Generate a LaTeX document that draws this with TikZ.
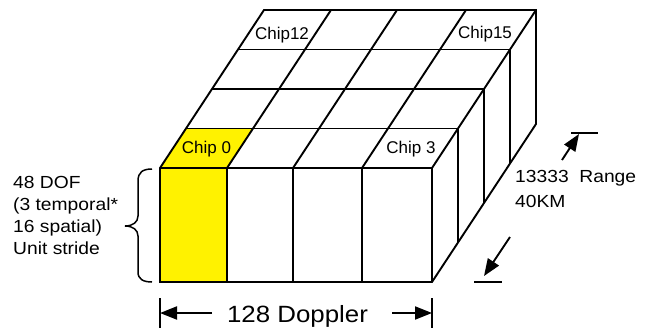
\documentclass[tikz,border=0pt]{standalone}
\usepackage{fontspec}
\setmainfont{Liberation Sans}
\newfontfamily\chipfont{Liberation Sans}
\newfontfamily\widefont[FakeStretch=1.1]{Liberation Sans}
\usetikzlibrary{arrows.meta}
\begin{document}
\begin{tikzpicture}[x=1pt,y=-1pt,
  edge/.style={draw=black, line width=1.9pt},
  chiplabel/.style={font=\chipfont\fontsize{17}{20}\selectfont, anchor=base, inner sep=0pt},
  sidelabel/.style={font=\widefont\fontsize{17.5}{22}\selectfont, anchor=base west, inner sep=0pt},
  biglabel/.style={font=\widefont\fontsize{23.5}{28}\selectfont, anchor=base, inner sep=0pt},
  dimarrow/.style={draw=black, line width=1.9pt, -{Triangle[length=17pt,width=13pt]}},
  bar/.style={draw=black, line width=1.9pt}]
\useasboundingbox (0,0) rectangle (652,333);

% corners
\coordinate (FTL) at (160,168);
\coordinate (FTR) at (432,168);
\coordinate (FBL) at (160,282);
\coordinate (FBR) at (432,282);
\coordinate (BTL) at (264,10);
\coordinate (BTR) at (536,10);
\coordinate (BBR) at (536,124);

% yellow chip 0
\fill[yellow] (160,168) -- (227,168) -- (253,128.5) -- (186,128.5) -- cycle;
\fill[yellow] (160,168) rectangle (227,282);

% top face rows
\foreach \k in {1,2,3} {
  \draw[edge] ({160+26*\k},{168-39.5*\k}) -- ({432+26*\k},{168-39.5*\k});
}
% top face columns
\foreach \x in {227,293,362} {
  \draw[edge] (\x,168) -- ({\x+104},10);
}
% right face verticals
\foreach \k in {1,2,3} {
  \draw[edge] ({432+26*\k},{168-39.5*\k}) -- ({432+26*\k},{282-39.5*\k});
}
% front face verticals
\foreach \x in {227,293,362} {
  \draw[edge] (\x,168) -- (\x,282);
}
% outline
\draw[edge, line join=miter] (FBL) -- (FTL) -- (BTL) -- (BTR) -- (BBR) -- (FBR) -- cycle;
\draw[edge, line join=miter] (FTL) -- (FTR) -- (BTR);
\draw[edge] (FTR) -- (FBR);

% chip labels
\node[chiplabel] (c0) at (206.5,153) {Chip 0};
\node[chiplabel] (c3) at (411,153) {Chip 3};
\node[chiplabel] (c12) at (282,39) {Chip12};
\node[chiplabel] (c15) at (485,38) {Chip15};

% brace
\draw[line width=1.5pt] (152,169) .. controls (143,169) and (138,172) .. (138,181)
  -- (138,216) .. controls (138,222) and (133,226) .. (125,226)
  .. controls (133,226) and (138,230) .. (138,236)
  -- (138,272) .. controls (138,279) and (143,282) .. (152,282);

% left text
\node[sidelabel] (t1) at (13,188) {48 DOF};
\node[sidelabel] (t2) at (13,210) {(3 temporal*};
\node[sidelabel] (t3) at (13,232) {16 spatial)};
\node[sidelabel] (t4) at (13,254) {Unit stride};

% doppler dimension
\coordinate (dl) at (160,313);
\coordinate (dr) at (432,313);
\draw[bar] (160,298) -- (160,328);
\draw[bar] (432,298) -- (432,328);
\node[biglabel] (dop) at (297.5,322) {128 Doppler};
\coordinate (dls) at (212,313);
\coordinate (drs) at (392,313);
\draw[dimarrow] (dls) -- (dl);
\draw[dimarrow] (drs) -- (dr);

% range dimension
\draw[bar] (571,133) -- (598,133);
\draw[bar] (474,282) -- (502,282);
\coordinate (ru) at (579,134);
\coordinate (rus) at (562,160);
\coordinate (rl) at (484,276);
\coordinate (rls) at (510,237);
\draw[dimarrow] (rus) -- (ru);
\draw[dimarrow] (rls) -- (rl);
\node[sidelabel] (r1) at (515,182) {13333\ \ Range};
\node[sidelabel] (r2) at (515,207) {40KM};
\end{tikzpicture}
\end{document}
